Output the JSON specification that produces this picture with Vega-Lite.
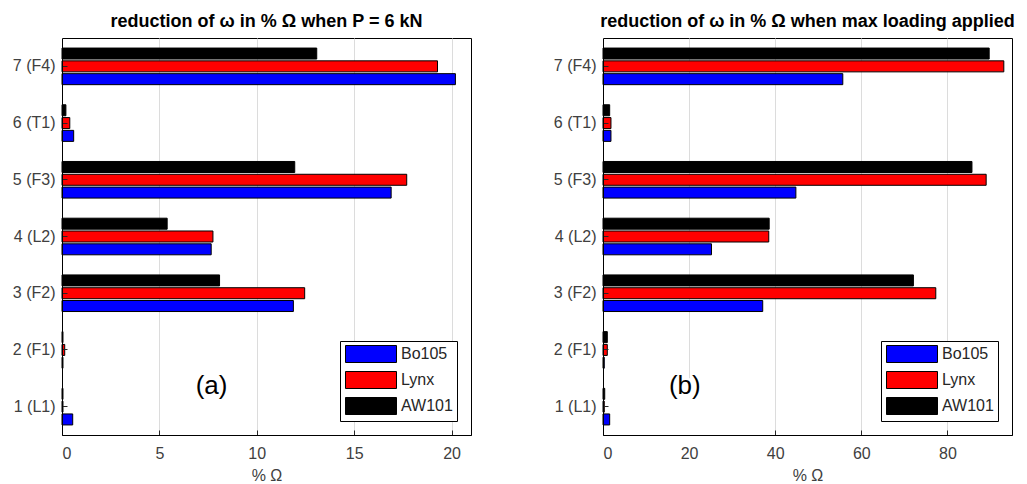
{
  "$schema": "https://vega.github.io/schema/vega-lite/v6.json",
  "padding": {"left": 11, "top": 12, "right": 5, "bottom": 0},
  "spacing": 80,
  "config": {
    "font": "Liberation Sans",
    "view": {"stroke": "black", "strokeWidth": 1},
    "title": {"fontSize": 18, "fontWeight": "bold", "color": "black", "offset": 7},
    "axis": {
      "gridColor": "#dcdcdc", "gridWidth": 1, "domainColor": "black", "ticks": true,
      "tickSize": -5, "tickColor": "#262626",
      "labelColor": "#404040", "labelFontSize": 16, "titleFontSize": 16,
      "titleFontWeight": "normal", "titleColor": "#404040", "labelPadding": 12
    },
    "axisX": {"labelPadding": 15, "titlePadding": 6},
    "legend": {
      "orient": "bottom-right", "offset": 14, "title": null,
      "symbolType": "M-3,-1H3V1H-3Z", "symbolSize": 289,
      "symbolStrokeColor": "black", "symbolStrokeWidth": 1, "symbolOffset": 18,
      "labelFontSize": 16, "labelColor": "#262626", "strokeColor": "black",
      "fillColor": "white", "padding": 4, "rowPadding": 4, "labelOffset": 21
    }
  },
  "datasets": {
    "bars": [
      {"panel": "a", "mode": "7 (F4)", "heli": "AW101", "value": 13.08},
      {"panel": "a", "mode": "7 (F4)", "heli": "Lynx", "value": 19.28},
      {"panel": "a", "mode": "7 (F4)", "heli": "Bo105", "value": 20.2},
      {"panel": "a", "mode": "6 (T1)", "heli": "AW101", "value": 0.2},
      {"panel": "a", "mode": "6 (T1)", "heli": "Lynx", "value": 0.4},
      {"panel": "a", "mode": "6 (T1)", "heli": "Bo105", "value": 0.6},
      {"panel": "a", "mode": "5 (F3)", "heli": "AW101", "value": 11.95},
      {"panel": "a", "mode": "5 (F3)", "heli": "Lynx", "value": 17.7},
      {"panel": "a", "mode": "5 (F3)", "heli": "Bo105", "value": 16.9},
      {"panel": "a", "mode": "4 (L2)", "heli": "AW101", "value": 5.4},
      {"panel": "a", "mode": "4 (L2)", "heli": "Lynx", "value": 7.75},
      {"panel": "a", "mode": "4 (L2)", "heli": "Bo105", "value": 7.66},
      {"panel": "a", "mode": "3 (F2)", "heli": "AW101", "value": 8.09},
      {"panel": "a", "mode": "3 (F2)", "heli": "Lynx", "value": 12.46},
      {"panel": "a", "mode": "3 (F2)", "heli": "Bo105", "value": 11.88},
      {"panel": "a", "mode": "2 (F1)", "heli": "AW101", "value": 0.05},
      {"panel": "a", "mode": "2 (F1)", "heli": "Lynx", "value": 0.14},
      {"panel": "a", "mode": "2 (F1)", "heli": "Bo105", "value": 0.05},
      {"panel": "a", "mode": "1 (L1)", "heli": "AW101", "value": 0.05},
      {"panel": "a", "mode": "1 (L1)", "heli": "Lynx", "value": 0.05},
      {"panel": "a", "mode": "1 (L1)", "heli": "Bo105", "value": 0.55},
      {"panel": "b", "mode": "7 (F4)", "heli": "AW101", "value": 89.7},
      {"panel": "b", "mode": "7 (F4)", "heli": "Lynx", "value": 93.1},
      {"panel": "b", "mode": "7 (F4)", "heli": "Bo105", "value": 55.7},
      {"panel": "b", "mode": "6 (T1)", "heli": "AW101", "value": 1.55},
      {"panel": "b", "mode": "6 (T1)", "heli": "Lynx", "value": 1.85},
      {"panel": "b", "mode": "6 (T1)", "heli": "Bo105", "value": 1.85},
      {"panel": "b", "mode": "5 (F3)", "heli": "AW101", "value": 85.7},
      {"panel": "b", "mode": "5 (F3)", "heli": "Lynx", "value": 89.0},
      {"panel": "b", "mode": "5 (F3)", "heli": "Bo105", "value": 44.8},
      {"panel": "b", "mode": "4 (L2)", "heli": "AW101", "value": 38.6},
      {"panel": "b", "mode": "4 (L2)", "heli": "Lynx", "value": 38.5},
      {"panel": "b", "mode": "4 (L2)", "heli": "Bo105", "value": 25.2},
      {"panel": "b", "mode": "3 (F2)", "heli": "AW101", "value": 72.1},
      {"panel": "b", "mode": "3 (F2)", "heli": "Lynx", "value": 77.3},
      {"panel": "b", "mode": "3 (F2)", "heli": "Bo105", "value": 37.1},
      {"panel": "b", "mode": "2 (F1)", "heli": "AW101", "value": 1.0},
      {"panel": "b", "mode": "2 (F1)", "heli": "Lynx", "value": 1.0},
      {"panel": "b", "mode": "2 (F1)", "heli": "Bo105", "value": 0.3},
      {"panel": "b", "mode": "1 (L1)", "heli": "AW101", "value": 0.4},
      {"panel": "b", "mode": "1 (L1)", "heli": "Lynx", "value": 0.3},
      {"panel": "b", "mode": "1 (L1)", "heli": "Bo105", "value": 1.55}
    ],
    "notes": [
      {"panel": "a", "mode": "1 (L1)", "x0": 5.8, "x1": 9.8, "tx": 7.68, "label": "(a)"},
      {"panel": "b", "mode": "1 (L1)", "x0": 10.4, "x1": 28.5, "tx": 19.0, "label": "(b)"}
    ]
  },
  "hconcat": [
    {
      "width": 409, "height": 397,
      "title": "reduction of ω in % Ω when P = 6 kN",
      "layer": [
        {
          "data": {"name": "notes"},
          "transform": [{"filter": "datum.panel == 'a'"}],
          "mark": {"type": "rect", "fill": "white"},
          "encoding": {
            "x": {"field": "x0", "type": "quantitative", "scale": {"domain": [0, 21], "nice": false}, "axis": {"values": [0, 5, 10, 15, 20], "title": "% Ω"}},
            "x2": {"field": "x1"},
            "y": {"field": "mode", "type": "nominal", "scale": {"domain": ["7 (F4)", "6 (T1)", "5 (F3)", "4 (L2)", "3 (F2)", "2 (F1)", "1 (L1)"], "paddingInner": 0, "paddingOuter": 0}, "axis": {"title": null}}
          }
        },
        {
          "data": {"name": "notes"},
          "transform": [{"filter": "datum.panel == 'a'"}],
          "mark": {"type": "text", "fontSize": 26, "dy": -21, "color": "black"},
          "encoding": {
            "x": {"field": "tx", "type": "quantitative", "scale": {"domain": [0, 21], "nice": false}, "axis": {"values": [0, 5, 10, 15, 20], "title": "% Ω"}},
            "y": {"field": "mode", "type": "nominal", "scale": {"domain": ["7 (F4)", "6 (T1)", "5 (F3)", "4 (L2)", "3 (F2)", "2 (F1)", "1 (L1)"], "paddingInner": 0, "paddingOuter": 0}, "axis": {"title": null}},
            "text": {"field": "label"}
          }
        },
        {
          "data": {"name": "bars"},
          "transform": [{"filter": "datum.panel == 'a'"}],
          "mark": {"type": "bar", "stroke": "black", "strokeWidth": 1},
          "encoding": {
            "x": {"field": "value", "type": "quantitative", "scale": {"domain": [0, 21], "nice": false}, "axis": {"values": [0, 5, 10, 15, 20], "title": "% Ω"}},
            "y": {"field": "mode", "type": "nominal", "scale": {"domain": ["7 (F4)", "6 (T1)", "5 (F3)", "4 (L2)", "3 (F2)", "2 (F1)", "1 (L1)"], "paddingInner": 0, "paddingOuter": 0}, "axis": {"title": null}},
            "yOffset": {"field": "heli", "type": "nominal", "scale": {"domain": ["AW101", "Lynx", "Bo105"], "paddingInner": 0.14, "paddingOuter": 0.785}},
            "color": {"field": "heli", "type": "nominal", "scale": {"domain": ["Bo105", "Lynx", "AW101"], "range": ["#0000ff", "#ff0000", "#000000"]}}
          }
        }
      ]
    },
    {
      "width": 409, "height": 397,
      "title": "reduction of ω in % Ω when max loading applied",
      "layer": [
        {
          "data": {"name": "notes"},
          "transform": [{"filter": "datum.panel == 'b'"}],
          "mark": {"type": "rect", "fill": "white"},
          "encoding": {
            "x": {"field": "x0", "type": "quantitative", "scale": {"domain": [0, 95], "nice": false}, "axis": {"values": [0, 20, 40, 60, 80], "title": "% Ω"}},
            "x2": {"field": "x1"},
            "y": {"field": "mode", "type": "nominal", "scale": {"domain": ["7 (F4)", "6 (T1)", "5 (F3)", "4 (L2)", "3 (F2)", "2 (F1)", "1 (L1)"], "paddingInner": 0, "paddingOuter": 0}, "axis": {"title": null}}
          }
        },
        {
          "data": {"name": "notes"},
          "transform": [{"filter": "datum.panel == 'b'"}],
          "mark": {"type": "text", "fontSize": 26, "dy": -21, "color": "black"},
          "encoding": {
            "x": {"field": "tx", "type": "quantitative", "scale": {"domain": [0, 95], "nice": false}, "axis": {"values": [0, 20, 40, 60, 80], "title": "% Ω"}},
            "y": {"field": "mode", "type": "nominal", "scale": {"domain": ["7 (F4)", "6 (T1)", "5 (F3)", "4 (L2)", "3 (F2)", "2 (F1)", "1 (L1)"], "paddingInner": 0, "paddingOuter": 0}, "axis": {"title": null}},
            "text": {"field": "label"}
          }
        },
        {
          "data": {"name": "bars"},
          "transform": [{"filter": "datum.panel == 'b'"}],
          "mark": {"type": "bar", "stroke": "black", "strokeWidth": 1},
          "encoding": {
            "x": {"field": "value", "type": "quantitative", "scale": {"domain": [0, 95], "nice": false}, "axis": {"values": [0, 20, 40, 60, 80], "title": "% Ω"}},
            "y": {"field": "mode", "type": "nominal", "scale": {"domain": ["7 (F4)", "6 (T1)", "5 (F3)", "4 (L2)", "3 (F2)", "2 (F1)", "1 (L1)"], "paddingInner": 0, "paddingOuter": 0}, "axis": {"title": null}},
            "yOffset": {"field": "heli", "type": "nominal", "scale": {"domain": ["AW101", "Lynx", "Bo105"], "paddingInner": 0.14, "paddingOuter": 0.785}},
            "color": {"field": "heli", "type": "nominal", "scale": {"domain": ["Bo105", "Lynx", "AW101"], "range": ["#0000ff", "#ff0000", "#000000"]}}
          }
        }
      ]
    }
  ],
  "resolve": {"scale": {"color": "independent"}, "legend": {"color": "independent"}}
}
